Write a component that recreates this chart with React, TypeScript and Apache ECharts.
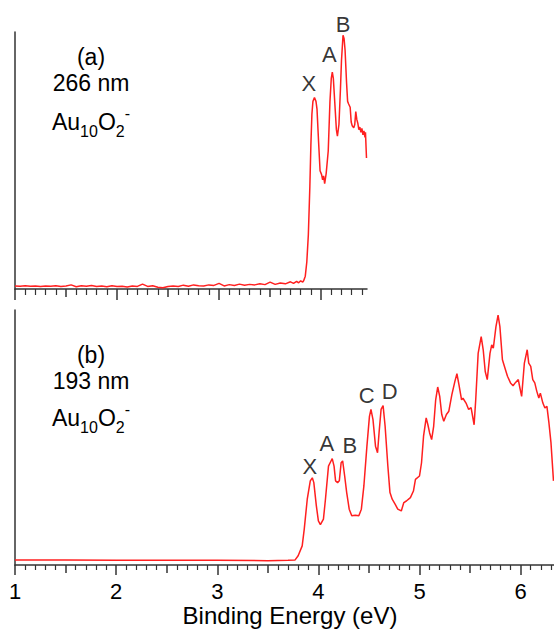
import React, { useEffect, useRef } from "react";
import * as echarts from "echarts";

// ---------- data ----------
// Panel (a): 266 nm spectrum  [binding energy (eV), intensity]
const topEnergy = [
  1.0, 1.05, 1.1, 1.15, 1.2, 1.25, 1.3, 1.35, 1.4, 1.45, 1.5, 1.55, 1.6, 1.65, 1.7, 1.75, 1.8, 1.85, 1.9, 1.95,
  2.0, 2.05, 2.1, 2.15, 2.2, 2.25, 2.3, 2.35, 2.4, 2.45, 2.5, 2.55, 2.6, 2.65, 2.7, 2.75, 2.8, 2.85, 2.9, 2.95,
  3.0, 3.05, 3.1, 3.15, 3.2, 3.25, 3.3, 3.35, 3.4, 3.45, 3.5, 3.55, 3.6, 3.65, 3.7, 3.73, 3.76, 3.78, 3.8, 3.82, 3.83,
  3.845, 3.86, 3.875, 3.89, 3.9, 3.91, 3.92, 3.935, 3.95, 3.96, 3.975, 3.99, 4.005, 4.015, 4.025, 4.035, 4.05,
  4.07, 4.087, 4.1, 4.11, 4.12, 4.135, 4.15, 4.16, 4.175, 4.19, 4.2, 4.215, 4.225, 4.235, 4.25, 4.26, 4.27,
  4.285, 4.295, 4.305, 4.32, 4.33, 4.34, 4.35, 4.36, 4.37, 4.38, 4.39, 4.4, 4.41, 4.42, 4.43, 4.435, 4.445,
];
const topIntensity = [
  1.2, 1.1, 1.3, 1.1, 1.2, 1.0, 1.2, 1.1, 1.3, 1.0, 1.2, 1.6, 0.9, 1.3, 1.1, 1.4, 1.0, 1.2, 0.9, 1.3,
  1.0, 1.1, 0.8, 1.2, 1.0, 1.9, 1.0, 1.3, 0.7, 0.5, 1.0, 1.2, 1.0, 1.5, 1.1, 1.6, 1.3, 1.2, 1.6, 1.4,
  2.2, 1.2, 1.7, 1.4, 1.9, 1.5, 1.8, 1.6, 2.0, 1.7, 2.7, 1.8, 2.3, 2.0, 2.8, 2.2, 3.0, 2.4, 3.2, 2.7, 3.3,
  5, 10.5, 21, 40, 56, 68, 73, 74.5, 73, 70, 57.6, 46, 44.5, 42.5, 44, 41, 45,
  53.7, 73, 82, 84.4, 82, 72, 62, 59.5, 64, 78, 89, 98.7, 97.5, 93, 80, 73, 72,
  70.7, 65, 63.5, 62.7, 64, 69, 66, 64.5, 62, 63, 61, 62.5, 60, 61.5, 59, 61, 51,
];

// Panel (b): 193 nm spectrum
const bottomEnergy = [
  1.0, 1.5, 2.0, 2.5, 3.0, 3.5, 3.7, 3.77, 3.8, 3.84, 3.86, 3.89, 3.92, 3.94, 3.955, 3.98, 4.0, 4.02, 4.05,
  4.07, 4.1, 4.12, 4.137, 4.155, 4.17, 4.19, 4.207, 4.225, 4.24, 4.26, 4.28, 4.305, 4.33, 4.365, 4.4, 4.425,
  4.45, 4.48, 4.505, 4.52, 4.54, 4.565, 4.585, 4.6, 4.62, 4.64, 4.66, 4.687, 4.708, 4.73, 4.76, 4.785, 4.82,
  4.845, 4.87, 4.91, 4.94, 4.96, 5.0, 5.02, 5.04, 5.066, 5.083, 5.1, 5.12, 5.14, 5.16, 5.18, 5.2, 5.22, 5.24,
  5.266, 5.29, 5.32, 5.35, 5.37, 5.39, 5.416, 5.43, 5.46, 5.486, 5.51, 5.54, 5.556, 5.58, 5.61, 5.63, 5.65,
  5.67, 5.697, 5.714, 5.73, 5.756, 5.777, 5.795, 5.82, 5.85, 5.87, 5.9, 5.925, 5.95, 5.977, 5.99, 6.01, 6.037,
  6.065, 6.08, 6.1, 6.12, 6.14, 6.16, 6.18, 6.195, 6.22, 6.24, 6.26, 6.28, 6.3, 6.325,
];
const bottomIntensity = [
  2.0, 2.0, 1.9, 1.9, 1.9, 1.7, 1.9, 2.0, 3.6, 7.5, 14, 25.8, 33, 34.2, 32.3, 23.2, 17.3, 15.8, 18,
  25.8, 38.8, 40.4, 41.7, 38.8, 33, 32.3, 33, 40.1, 40.8, 34.9, 28.4, 21.9, 19.3, 19.5, 19.3, 21.9,
  31, 46.6, 58.3, 61, 57, 46.6, 44, 51.8, 61, 62.5, 54.4, 38.8, 28.4, 25.8, 23.8, 21.9, 21.2,
  24.5, 25.1, 26.4, 29, 33.6, 34.9, 40.1, 50.5, 57.7, 55, 51.8, 49.2, 54.4, 64.8, 69.8, 66.1, 59, 56.4,
  59, 60.3, 66.8, 72, 75, 70.7, 64.8, 65.4, 63.5, 61, 61.7, 55, 64.8, 83, 89.6, 84.4, 75.9,
  72.7, 83, 86.3, 85, 93.5, 98, 93.5, 80.5, 76.6, 74, 71.4, 70.3, 71.6, 72.7, 70, 66.1, 79.2,
  84.4, 79.2, 77.9, 72.7, 71.4, 68.1, 65.5, 67.4, 63.5, 61.6, 62.2, 55.7, 48, 33,
];

// Peak labels [energy, intensity]
const topPeakNames = ["X", "A", "B"];
const topPeakEnergy = [3.88, 4.08, 4.216];
const topPeakLevel = [79.8, 91.1, 103.1];
const bottomPeakNames = ["X", "A", "B", "C", "D"];
const bottomPeakEnergy = [3.915, 4.083, 4.31, 4.478, 4.705];
const bottomPeakLevel = [38.8, 47.5, 46.7, 66.3, 68.2];

// Tick labels / tick positions
const bottomMajorTicks = [1, 2, 3, 4, 5, 6];
const bottomMediumTicks = [1.5, 2.5, 3.5, 4.5, 5.5];
const topMajorTicks = [1, 2, 3, 4];
const topMediumTicks = [1.5, 2.5, 3.5];
const minorTicksUpTo = (last: number) => {
  const out: number[] = [];
  for (let i = 11; i <= Math.round(last * 10); i++) if (i % 5 !== 0) out.push(i / 10);
  return out;
};
const topMinorTicks = minorTicksUpTo(4.4);
const bottomMinorTicks = minorTicksUpTo(6.3);

const panelTexts = [
  { label: "(a)", wavelength: "266 nm" },
  { label: "(b)", wavelength: "193 nm" },
];
const speciesRich = "{m|Au}{s|10}{m|O}{s|2}{p|-}";
const xAxisTitle = "Binding Energy (eV)";

// ---------- styling ----------
const FONT = "'Liberation Sans', Arial, Helvetica, sans-serif";
const AXIS_COLOR = "#333";
const LINE_COLOR = "#ff1f1f";
const TEXT_COLOR = "#000";

function makeXAxes(gridIndex: number, max: number, major: number[], medium: number[], minor: number[], big: number, withLabels: boolean) {
  const base = { type: "value", gridIndex, min: 1, max, position: "bottom", offset: 0, splitLine: { show: false } } as any;
  return [
    {
      ...base,
      interval: 1,
      axisLine: { show: true, lineStyle: { color: AXIS_COLOR, width: 1.5 } },
      axisTick: { show: true, customValues: major, length: big, lineStyle: { color: AXIS_COLOR, width: 1.5 } },
      axisLabel: withLabels
        ? { show: true, customValues: major, fontSize: 22, fontFamily: FONT, color: TEXT_COLOR, margin: 15 }
        : { show: false },
      ...(withLabels
        ? {
            name: xAxisTitle,
            nameLocation: "middle",
            nameGap: 38,
            nameTextStyle: { fontSize: 24, fontFamily: FONT, color: TEXT_COLOR, padding: [0, 0, 0, 11] },
          }
        : {}),
    },
    {
      ...base,
      axisLine: { show: false },
      axisTick: { show: true, customValues: medium, length: 8, lineStyle: { color: AXIS_COLOR, width: 1.5 } },
      axisLabel: { show: false },
    },
    {
      ...base,
      axisLine: { show: false },
      axisTick: { show: true, customValues: minor, length: big === 11 ? 6 : 5, lineStyle: { color: AXIS_COLOR, width: 1.2 } },
      axisLabel: { show: false },
    },
  ];
}

function peakSeries(names: string[], xs: number[], ys: number[], xAxisIndex: number, yAxisIndex: number) {
  return {
    type: "scatter",
    xAxisIndex,
    yAxisIndex,
    clip: false,
    symbolSize: 1,
    itemStyle: { color: "rgba(0,0,0,0)" },
    label: {
      show: true,
      position: "inside",
      formatter: (p: any) => p.name,
      fontSize: 22,
      fontFamily: FONT,
      color: TEXT_COLOR,
      textBorderWidth: 0,
    },
    emphasis: { disabled: true },
    data: names.map((n, i) => ({ name: n, value: [xs[i], ys[i]] })),
  };
}

function panelGraphics(cx: number, y1: number, y2: number, y3: number, idx: number) {
  const common = { fontFamily: FONT, fill: TEXT_COLOR, align: "center", verticalAlign: "middle" } as any;
  return [
    { type: "text", x: cx, y: y1, style: { ...common, text: panelTexts[idx].label, fontSize: 23 } },
    { type: "text", x: cx, y: y2, style: { ...common, text: panelTexts[idx].wavelength, fontSize: 23 } },
    {
      type: "text",
      x: cx,
      y: y3,
      style: {
        ...common,
        text: speciesRich,
        rich: {
          m: { fontSize: 23, lineHeight: 34, verticalAlign: "middle", fontFamily: FONT, fill: TEXT_COLOR },
          s: { fontSize: 16, lineHeight: 22, verticalAlign: "bottom", fontFamily: FONT, fill: TEXT_COLOR },
          p: { fontSize: 16, lineHeight: 16, verticalAlign: "top", fontFamily: FONT, fill: TEXT_COLOR },
        },
      },
    },
  ];
}

export default function App() {
  const ref = useRef<HTMLDivElement>(null);
  useEffect(() => {
    if (!ref.current) return;
    const chart = echarts.init(ref.current, null, { renderer: "svg" });
    const yAxisBase = {
      type: "value",
      min: 0,
      max: 100,
      axisLine: { show: true, lineStyle: { color: AXIS_COLOR, width: 1.5 } },
      axisTick: { show: false },
      axisLabel: { show: false },
      splitLine: { show: false },
    };
    const option: any = {
      animation: false,
      backgroundColor: "#fff",
      textStyle: { fontFamily: FONT },
      grid: [
        { left: 15, top: 32, width: 352, height: 257 },
        { left: 15, top: 310, width: 539, height: 255 },
      ],
      xAxis: [
        ...makeXAxes(0, 4.45, topMajorTicks, topMediumTicks, topMinorTicks, 11, false),
        ...makeXAxes(1, 6.33, bottomMajorTicks, bottomMediumTicks, bottomMinorTicks, 10, true),
      ],
      yAxis: [
        { ...yAxisBase, gridIndex: 0 },
        { ...yAxisBase, gridIndex: 1 },
      ],
      series: [
        {
          type: "line",
          xAxisIndex: 0,
          yAxisIndex: 0,
          showSymbol: false,
          clip: false,
          lineStyle: { color: LINE_COLOR, width: 1.5 },
          data: topEnergy.map((x, i) => [x, topIntensity[i]]),
        },
        {
          type: "line",
          xAxisIndex: 3,
          yAxisIndex: 1,
          showSymbol: false,
          clip: false,
          lineStyle: { color: LINE_COLOR, width: 1.5 },
          data: bottomEnergy.map((x, i) => [x, bottomIntensity[i]]),
        },
        peakSeries(topPeakNames, topPeakEnergy, topPeakLevel, 0, 0),
        peakSeries(bottomPeakNames, bottomPeakEnergy, bottomPeakLevel, 3, 1),
      ],
      graphic: [...panelGraphics(91, 57, 83, 122, 0), ...panelGraphics(91, 355, 381, 418, 1)],
    };
    chart.setOption(option);
    return () => chart.dispose();
  }, []);
  return (
    <div
      ref={ref}
      style={{ position: "fixed", left: 0, top: 0, width: 554, height: 629, background: "#fff" }}
    />
  );
}
